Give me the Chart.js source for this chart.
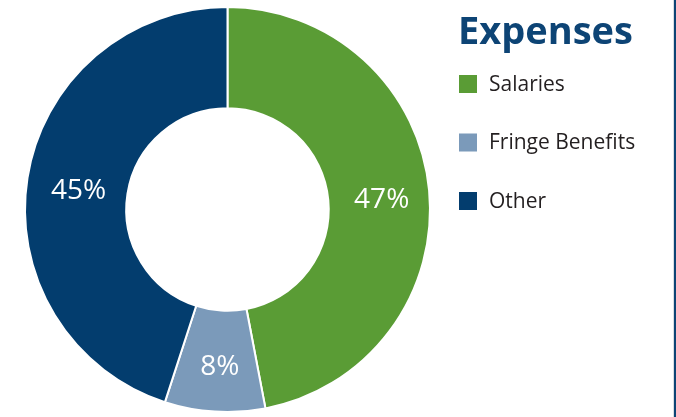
<!DOCTYPE html>
<html>
<head>
<meta charset="utf-8">
<script src="https://cdn.jsdelivr.net/npm/chart.js@4.4.0/dist/chart.umd.min.js"></script>
<style>
  html, body { margin: 0; padding: 0; background: #ffffff; }
  #wrap { position: relative; width: 676px; height: 417px; }
  canvas { display: block; }
</style>
</head>
<body>
<div id="wrap"><canvas id="c" width="676" height="417"></canvas></div>
<script>
const chartTitle = "Expenses";
const categories = ["Salaries", "Fringe Benefits", "Other"];
const values = [47, 8, 45];
const sliceColors = ["#5a9c35", "#7b9aba", "#033d6e"];
const FONT = "'Open Sans', 'Noto Sans', sans-serif";

const sideLegend = {
  id: 'sideLegend',
  afterDraw(chart) {
    const ctx = chart.ctx;
    ctx.save();
    // title
    ctx.fillStyle = '#0d4475';
    ctx.font = "bold 38px " + FONT;
    ctx.textBaseline = 'alphabetic';
    ctx.textAlign = 'left';
    ctx.fillText(chartTitle, 458, 44, 180);
    // items
    ctx.font = "21px " + FONT;
    categories.forEach((lab, i) => {
      const cy = 84 + i * 58.5;
      ctx.fillStyle = sliceColors[i];
      ctx.fillRect(459, cy - 9, 18, 18);
      ctx.fillStyle = '#231f20';
      ctx.textBaseline = 'middle';
      ctx.fillText(lab, 489, cy + 1);
    });
    // right border line
    ctx.fillStyle = '#d8dde3';
    ctx.fillRect(673, 0, 1, 417);
    ctx.fillStyle = '#0d4475';
    ctx.fillRect(674, 0, 2, 417);
    ctx.restore();
  }
};

const sliceLabels = {
  id: 'sliceLabels',
  afterDatasetsDraw(chart) {
    const ctx = chart.ctx;
    const meta = chart.getDatasetMeta(0);
    ctx.save();
    ctx.fillStyle = '#ffffff';
    ctx.font = "28px " + FONT;
    ctx.textAlign = 'center';
    ctx.textBaseline = 'middle';
    meta.data.forEach((arc, i) => {
      const p = arc.getProps(['x', 'y', 'startAngle', 'endAngle', 'innerRadius', 'outerRadius']);
      const mid = (p.startAngle + p.endAngle) / 2;
      const r = (p.innerRadius + p.outerRadius) / 2 + 1;
      const x = p.x + Math.cos(mid) * r;
      const y = p.y + Math.sin(mid) * r;
      ctx.fillText(values[i] + '%', x + 2, y + 5);
    });
    ctx.restore();
  }
};

new Chart(document.getElementById('c'), {
  type: 'doughnut',
  data: {
    labels: categories,
    datasets: [{
      data: values,
      backgroundColor: sliceColors,
      borderColor: '#ffffff',
      borderWidth: 2,
      hoverOffset: 0
    }]
  },
  options: {
    responsive: false,
    animation: false,
    cutout: '50%',
    rotation: 0,
    layout: { padding: { left: 24, right: 245, top: 6, bottom: 4 } },
    plugins: {
      legend: { display: false },
      tooltip: { enabled: false }
    }
  },
  plugins: [sliceLabels, sideLegend]
});
</script>
</body>
</html>
